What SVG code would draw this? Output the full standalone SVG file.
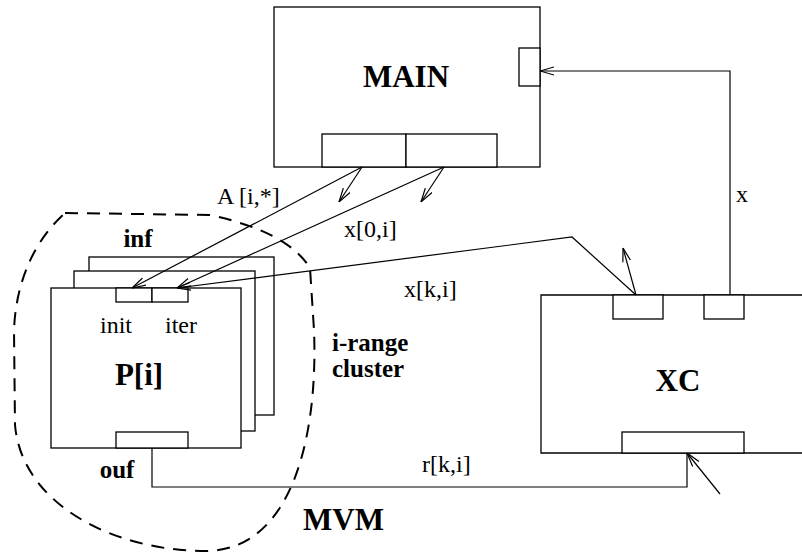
<svg xmlns="http://www.w3.org/2000/svg" width="802" height="552" viewBox="0 0 802 552">
<style>
.b{fill:#fff;stroke:#000;stroke-width:1.3}
.l{fill:none;stroke:#000;stroke-width:1.2}
.big{font-family:"Liberation Serif",serif;font-weight:bold;font-size:31px;text-anchor:middle}
.bl{font-family:"Liberation Serif",serif;font-weight:bold;font-size:25px}
.nl{font-family:"Liberation Serif",serif;font-size:24px}
</style>
<defs>
<marker id="ah" viewBox="0 0 14 10" refX="14" refY="5" markerWidth="14" markerHeight="10" markerUnits="userSpaceOnUse" orient="auto">
<path d="M0,1 L14,5 L0,9" fill="none" stroke="#000" stroke-width="1.2"/>
</marker>
</defs>
<rect width="802" height="552" fill="#fff"/>
<g id="cluster">
<path d="M65,213 L210,215 Q288,232 310,268 L314,330 C318,430 295,551 205,551 C115,551 22,505 15,425 L14,330 C16,280 35,240 65,213" fill="none" stroke="#000" stroke-width="2" stroke-dasharray="13,9"/>
<text class="bl" x="332" y="351">i-range</text>
<text class="bl" x="332" y="377">cluster</text>
<text class="bl" x="303" y="530" style="font-size:31px">MVM</text>
</g>
<g id="main">
<rect class="b" x="274" y="7" width="266" height="160"/>
<rect class="b" x="519" y="48" width="21" height="38"/>
<rect class="b" x="322" y="134" width="84" height="33"/>
<rect class="b" x="406" y="134" width="91" height="33"/>
<text class="big" x="406" y="87">MAIN</text>
</g>
<g id="p">
<rect class="b" x="89" y="257" width="185" height="158"/>
<rect class="b" x="74" y="271" width="181" height="160"/>
<rect class="b" x="51" y="288" width="190" height="160"/>
<rect class="b" x="116" y="288" width="36" height="14"/>
<rect class="b" x="152" y="288" width="36" height="14"/>
<rect class="b" x="116" y="432" width="72" height="16"/>
<text class="big" x="139" y="385">P[i]</text>
<text class="nl" x="116" y="333" text-anchor="middle">init</text>
<text class="nl" x="181" y="333" text-anchor="middle">iter</text>
<text class="bl" x="138" y="247" text-anchor="middle">inf</text>
<text class="bl" x="117" y="478" text-anchor="middle">ouf</text>
</g>
<g id="xc">
<path class="b" d="M802,295 H541 V453 H802"/>
<rect class="b" x="613" y="295" width="50" height="24"/>
<rect class="b" x="704" y="295" width="40" height="24"/>
<rect class="b" x="622" y="432" width="122" height="21"/>
<text class="big" x="678" y="391">XC</text>
</g>
<g id="connectors">
<path class="l" d="M362,167 L132,288" marker-end="url(#ah)"/>
<path class="l" d="M362,167 L339,202" marker-end="url(#ah)"/>
<path class="l" d="M444,167 L177,288" marker-end="url(#ah)"/>
<path class="l" d="M444,167 L421,202" marker-end="url(#ah)"/>
<path class="l" d="M636,295 L572,237 L177,288" marker-end="url(#ah)"/>
<path class="l" d="M636,295 L623,248" marker-end="url(#ah)"/>
<path class="l" d="M730,295 V71 H540" marker-end="url(#ah)"/>
<path class="l" d="M152,448 V487 H687 V453"/>
<path class="l" d="M720,494 L687,453" marker-end="url(#ah)"/>
<text class="nl" x="217" y="204">A [i,*]</text>
<text class="nl" x="344" y="237">x[0,i]</text>
<text class="nl" x="404" y="297">x[k,i]</text>
<text class="nl" x="422" y="472">r[k,i]</text>
<text class="nl" x="736" y="202">x</text>
</g>
</svg>
